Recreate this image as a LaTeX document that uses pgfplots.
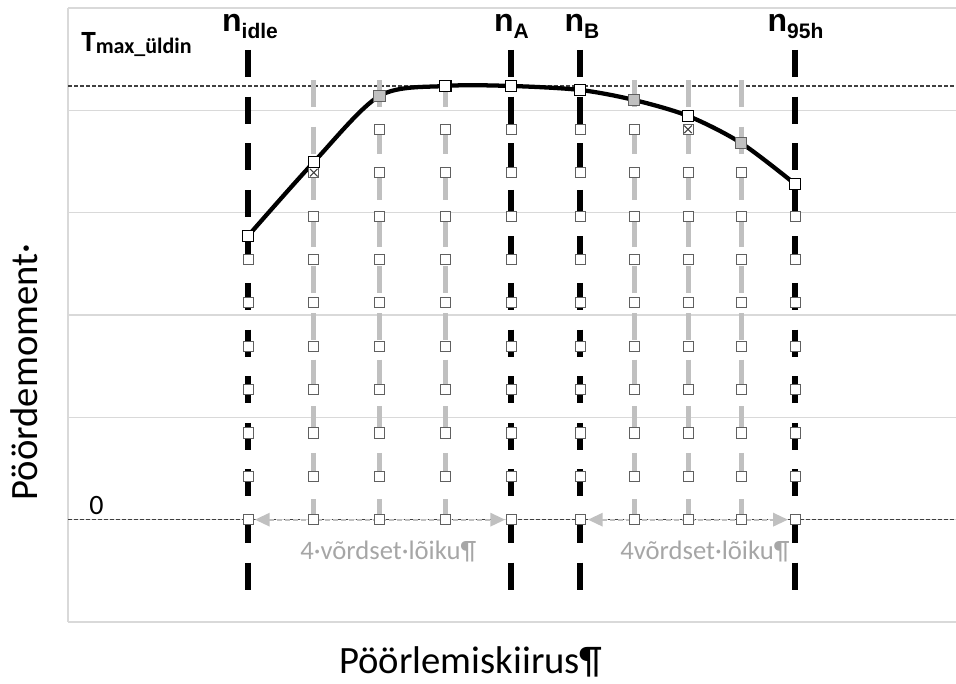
\documentclass[border=0pt]{standalone}
\usepackage{pgfplots}
\pgfplotsset{compat=1.18}
\usepackage{fontspec}
\setmainfont{Carlito}
\newfontfamily\arialf{Liberation Sans}
\usetikzlibrary{arrows.meta}
\definecolor{gridgray}{HTML}{D9D9D9}
\definecolor{lgray}{HTML}{C0C0C0}
\definecolor{mgray}{HTML}{606060}
\definecolor{dgray}{HTML}{404040}
\definecolor{txtgray}{HTML}{A6A6A6}
\begin{document}
\begin{tikzpicture}[x=0.75pt,y=0.75pt]
\useasboundingbox (0,0) rectangle (956,684);
\begin{axis}[
  at={(51pt,46.5pt)}, anchor=south west,
  width=666pt, height=460.5pt, scale only axis,
  xmin=-2.7376, xmax=10.767, ymin=-1, ymax=5,
  axis x line*=bottom, axis y line*=left,
  axis line style={draw=gridgray, line width=1.2pt, -},
  xtick=\empty, ytick={-1,0,1,2,3,4,5}, yticklabels={},
  major tick length=0pt,
  ymajorgrids, grid style={gridgray, line width=1.2pt},
  clip=true,
]
% reference dashed lines (Tmax and 0)
\addplot[dgray, line width=0.9pt, dash pattern=on 3pt off 1.5pt] coordinates {(-2.7376,4.238) (10.767,4.238)};
\addplot[dgray, line width=0.9pt, dash pattern=on 3pt off 1.5pt] coordinates {(-2.7376,0) (10.767,0)};
% gray intermediate lines
\foreach \xx in {1,2,3,5.871,6.692,7.498}{
  \edef\tmp{\noexpand\addplot[lgray, line width=3.8pt, dash pattern=on 20.25pt off 14.7pt] coordinates {(\xx,4.296) (\xx,0)};}\tmp
}
% black lines nA, nB
\addplot[black, line width=4.5pt, dash pattern=on 20.25pt off 14.7pt] coordinates {(4,4.590) (4,-0.687)};
\addplot[black, line width=4.5pt, dash pattern=on 20.25pt off 14.7pt] coordinates {(5.049,4.590) (5.049,-0.687)};
% arrows
\addplot[lgray, line width=1.5pt, dash pattern=on 4pt off 2pt, {Triangle[length=11pt,width=10pt]}-{Triangle[length=11pt,width=10pt]}] coordinates {(0.106,0) (3.909,0)};
\addplot[lgray, line width=1.5pt, dash pattern=on 4pt off 2pt, {Triangle[length=11pt,width=10pt]}-{Triangle[length=11pt,width=10pt]}] coordinates {(5.17,0) (8.21,0)};
% grid operating points
\addplot[only marks, mark=square*, mark size=3.8pt, mark options={draw=mgray, fill=white, line width=0.6pt}] coordinates {
 (0,0) (0,0.4238) (0,0.8476) (0,1.2714) (0,1.6952) (0,2.119) (0,2.5428)
 (1,0) (1,0.4238) (1,0.8476) (1,1.2714) (1,1.6952) (1,2.119) (1,2.5428) (1,2.9666) (1,3.3904)
 (2,0) (2,0.4238) (2,0.8476) (2,1.2714) (2,1.6952) (2,2.119) (2,2.5428) (2,2.9666) (2,3.3904) (2,3.8142)
 (3,0) (3,0.4238) (3,0.8476) (3,1.2714) (3,1.6952) (3,2.119) (3,2.5428) (3,2.9666) (3,3.3904) (3,3.8142)
 (4,0) (4,0.4238) (4,0.8476) (4,1.2714) (4,1.6952) (4,2.119) (4,2.5428) (4,2.9666) (4,3.3904) (4,3.8142)
 (5.049,0) (5.049,0.4238) (5.049,0.8476) (5.049,1.2714) (5.049,1.6952) (5.049,2.119) (5.049,2.5428) (5.049,2.9666) (5.049,3.3904) (5.049,3.8142)
 (5.871,0) (5.871,0.4238) (5.871,0.8476) (5.871,1.2714) (5.871,1.6952) (5.871,2.119) (5.871,2.5428) (5.871,2.9666) (5.871,3.3904) (5.871,3.8142)
 (6.692,0) (6.692,0.4238) (6.692,0.8476) (6.692,1.2714) (6.692,1.6952) (6.692,2.119) (6.692,2.5428) (6.692,2.9666) (6.692,3.3904) (6.692,3.8142)
 (7.498,0) (7.498,0.4238) (7.498,0.8476) (7.498,1.2714) (7.498,1.6952) (7.498,2.119) (7.498,2.5428) (7.498,2.9666) (7.498,3.3904)
 (8.319,0) (8.319,0.4238) (8.319,0.8476) (8.319,1.2714) (8.319,1.6952) (8.319,2.119) (8.319,2.5428) (8.319,2.9666)
};
\addplot[only marks, mark=x, mark size=4pt, mark options={draw=dgray, line width=0.8pt}] coordinates {(1,3.3904) (6.692,3.8142)};
% black lines idle and n95h (drawn over their points)
\addplot[black, line width=4.5pt, dash pattern=on 20.25pt off 14.7pt] coordinates {(0,4.590) (0,-0.687)};
\addplot[black, line width=4.5pt, dash pattern=on 20.25pt off 14.7pt] coordinates {(8.319,4.590) (8.319,-0.687)};
% full-load curve
\addplot[black, line width=3.2pt, smooth, tension=0.5, mark=square*, mark size=4.3pt, mark options={draw=black, fill=white, line width=0.8pt}] coordinates {
 (0,2.772) (1,3.494) (2,4.141) (3,4.238) (4,4.238) (5.049,4.199) (5.871,4.101) (6.692,3.945) (7.498,3.681) (8.319,3.280)
};
\addplot[only marks, mark=square*, mark size=4.3pt, mark options={draw=mgray, fill=lgray, line width=0.8pt}] coordinates {(2,4.141) (5.871,4.101) (7.498,3.681)};
\end{axis}
% labels
\node[anchor=base, inner sep=0pt] at (250,652) {\arialf\bfseries\fontsize{24pt}{24pt}\selectfont n\raisebox{-5.25pt}{\fontsize{15.75pt}{16pt}\selectfont idle}};
\node[anchor=base, inner sep=0pt] at (511.5,652) {\arialf\bfseries\fontsize{24pt}{24pt}\selectfont n\raisebox{-5.25pt}{\fontsize{15.75pt}{16pt}\selectfont A}};
\node[anchor=base, inner sep=0pt] at (582,652) {\arialf\bfseries\fontsize{24pt}{24pt}\selectfont n\raisebox{-5.25pt}{\fontsize{15.75pt}{16pt}\selectfont B}};
\node[anchor=base, inner sep=0pt] at (795.5,652) {\arialf\bfseries\fontsize{24pt}{24pt}\selectfont n\raisebox{-5.25pt}{\fontsize{15.75pt}{16pt}\selectfont 95h}};
\node[anchor=base west, inner sep=0pt] at (81,632) {\bfseries\fontsize{22pt}{22pt}\selectfont T\raisebox{-1.5pt}{\fontsize{16.5pt}{16pt}\selectfont max\_üldin}};
\node[anchor=base west, inner sep=0pt] at (89,169) {\fontsize{21pt}{21pt}\selectfont 0};
\node[anchor=base west, inner sep=0pt, text=txtgray] at (300,124) {\fontsize{20pt}{20pt}\selectfont 4·võrdset·lõiku¶};
\node[anchor=base west, inner sep=0pt, text=txtgray] at (620,124) {\fontsize{20pt}{20pt}\selectfont 4võrdset·lõiku¶};
\node[anchor=base, inner sep=0pt, rotate=90] at (38,312) {\fontsize{29pt}{29pt}\selectfont Pöördemoment·};
\node[anchor=base, inner sep=0pt] at (471,10) {\fontsize{29pt}{29pt}\selectfont Pöörlemiskiirus¶};
\end{tikzpicture}
\end{document}
